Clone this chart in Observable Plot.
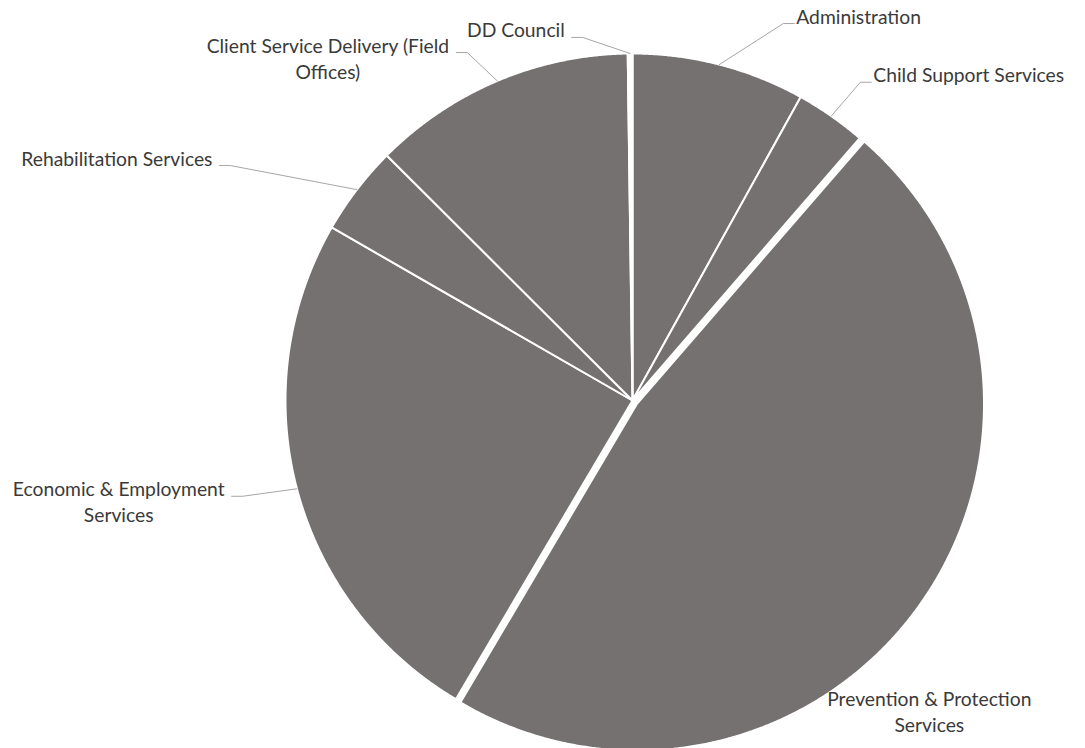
<!DOCTYPE html>
<html>
<head>
<meta charset="utf-8">
<script src="https://cdn.jsdelivr.net/npm/d3@7"></script>
<script src="https://cdn.jsdelivr.net/npm/@observablehq/plot@0.6"></script>
<style>
  html, body { margin: 0; padding: 0; background: #ffffff; }
  #chart { width: 1085px; height: 748px; }
</style>
</head>
<body>
<div id="chart"></div>
<script>
// ---------------- DATA ----------------
const categories = [
  "Administration",
  "Child Support Services",
  "Prevention & Protection Services",
  "Economic & Employment Services",
  "Rehabilitation Services",
  "Client Service Delivery (Field Offices)",
  "DD Council"
];
// share of total, percent
const shares = [8.06, 3.31, 47.17, 24.83, 4.17, 12.31, 0.22];
// label text as it is wrapped in the picture
const labelLines = [
  "Administration",
  "Child Support Services",
  "Prevention & Protection\nServices",
  "Economic & Employment\nServices",
  "Rehabilitation Services",
  "Client Service Delivery (Field\nOffices)",
  "DD Council"
];

// ---------------- STYLE / LAYOUT ----------------
const sliceColors = ["#767171", "#767171", "#767171", "#767171", "#767171", "#767171", "#ffffff"];
const explode = [0, 0, 0.016, 0, 0, 0, 0];           // in radius units
// label anchor (elbow of leader, or first-line baseline if no leader): angle clockwise from 12 o'clock, radius multiple
const labelAngle  = [21.8, 35.6, 135.8, 256.2, 300.3, 334.6, 352.2];
const labelRadius = [1.170, 1.128, 1.227, 1.157, 1.342, 1.110, 1.056];
const hasLeader   = [true, true, false, true, true, true, true];

const W = 1085, H = 748, CX = 632, CY = 400, R = 347;
const FONT = "Lato", FS = 19.3, LINE_PX = 26;
const STUB = 11, GAP_RIGHT = 2, GAP_LEFT = 7;
const textColor = "#3a3a3a", leaderColor = "#a6a6a6";

// ---------------- GEOMETRY ----------------
const arcs = d3.pie().sort(null).value(d => d)(shares);
const polar = (a, r) => [r * Math.sin(a), r * Math.cos(a)];
const rad = d => d * Math.PI / 180;

const slicePts = [];
arcs.forEach((p, i) => {
  const mid = (p.startAngle + p.endAngle) / 2;
  const [ox, oy] = polar(mid, explode[i]);
  const push = (x, y) => slicePts.push({name: categories[i], x: x + ox, y: y + oy, color: sliceColors[i]});
  push(0, 0);
  const n = Math.max(2, Math.ceil((p.endAngle - p.startAngle) / (Math.PI / 720)));
  for (let k = 0; k <= n; ++k) {
    const a = p.startAngle + (p.endAngle - p.startAngle) * k / n;
    const [x, y] = polar(a, 1);
    push(x, y);
  }
  push(0, 0);
});

const ctx = document.createElement("canvas").getContext("2d");
ctx.font = `${FS}px ${FONT}`;
const measure = s => Math.max(...s.split("\n").map(l => ctx.measureText(l).width));

const leaderPts = [];
const labels = [];
arcs.forEach((p, i) => {
  const mid = (p.startAngle + p.endAngle) / 2;
  const [ex, ey] = polar(rad(labelAngle[i]), labelRadius[i]);
  const right = Math.sin(rad(labelAngle[i])) >= 0;
  const s = right ? 1 : -1;
  const gap = right ? GAP_RIGHT : GAP_LEFT;
  const nLines = labelLines[i].split("\n").length;
  const w = measure(labelLines[i]);
  if (hasLeader[i]) {
    const [sx, sy] = polar(mid, 1 + explode[i]);
    const endX = ex + s * STUB / R;
    leaderPts.push({name: categories[i], x: sx, y: sy});
    leaderPts.push({name: categories[i], x: ex, y: ey});
    leaderPts.push({name: categories[i], x: endX, y: ey});
    const tx = endX + s * (gap + w / 2) / R;
    labels.push({text: labelLines[i], x: tx, y: ey, n: nLines});
  } else {
    labels.push({text: labelLines[i], x: ex, y: ey, n: nLines});
  }
});

// ---------------- PLOT ----------------
const textOpts = {
  x: "x", y: "y", text: "text",
  textAnchor: "middle", lineAnchor: "bottom",
  lineHeight: LINE_PX / FS,
  fontFamily: FONT, fontSize: FS, fill: textColor
};

const chart = Plot.plot({
  width: W, height: H,
  margin: 0,
  x: {axis: null, domain: [-CX / R, (W - CX) / R], range: [0, W]},
  y: {axis: null, domain: [(CY - H) / R, CY / R], range: [H, 0]},
  color: {type: "identity"},
  style: {background: "#ffffff", overflow: "visible"},
  marks: [
    Plot.line(slicePts, {x: "x", y: "y", z: "name", fill: "color", stroke: "#ffffff", strokeWidth: 2, strokeLinejoin: "round", curve: "linear"}),
    Plot.line(leaderPts, {x: "x", y: "y", z: "name", stroke: leaderColor, strokeWidth: 1, curve: "linear"}),
    Plot.text(labels.filter(d => d.n === 1), textOpts),
    Plot.text(labels.filter(d => d.n === 2), {...textOpts, dy: LINE_PX})
  ]
});
document.getElementById("chart").appendChild(chart);
</script>
</body>
</html>
